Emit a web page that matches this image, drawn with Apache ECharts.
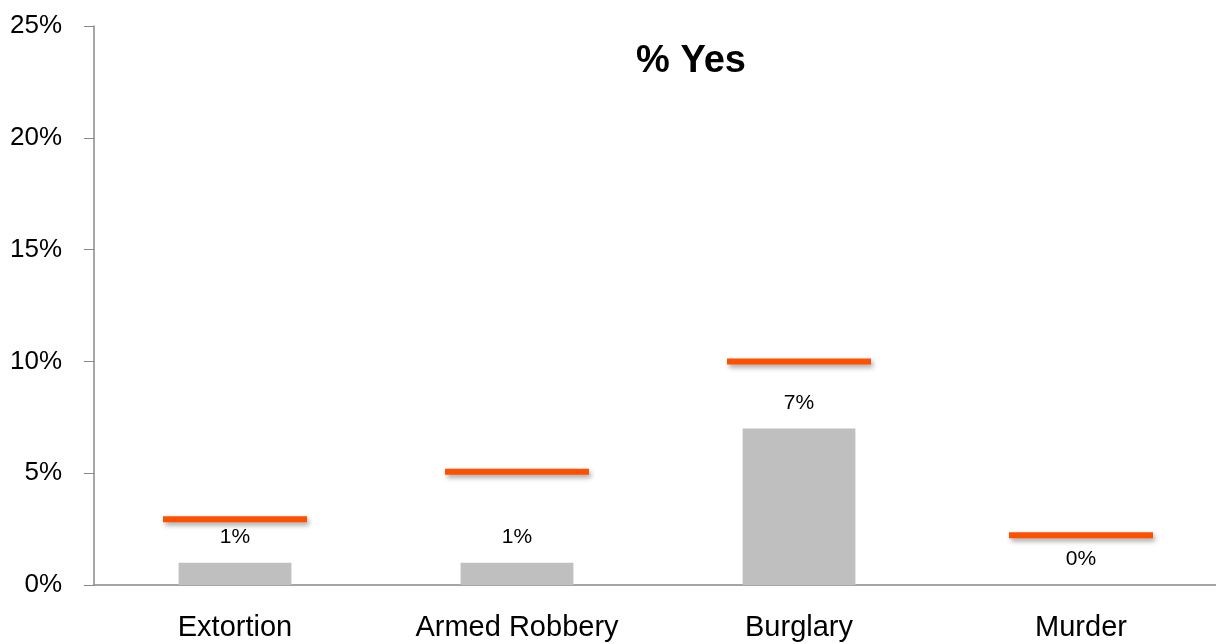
<!DOCTYPE html>
<html>
<head>
<meta charset="utf-8">
<script src="https://cdn.jsdelivr.net/npm/echarts@6/dist/echarts.min.js"></script>
<style>
  html, body { margin: 0; padding: 0; background: #fff; overflow: hidden; }
  #chart { width: 1222px; height: 644px; }
</style>
</head>
<body>
<div id="chart"></div>
<script>
var categories = ['Extortion', 'Armed Robbery', 'Burglary', 'Murder'];
var yesValues = [1, 1, 7, 0];
var markerValues = [2.94, 5.07, 10, 2.23];

var chart = echarts.init(document.getElementById('chart'));
var font = '"Liberation Sans", Arial, sans-serif';

option = {
    animation: false,
    title: {
        text: '% Yes',
        left: 686,
        top: 38,
        textAlign: 'center',
        textStyle: { fontFamily: font, fontSize: 38, fontWeight: 'bold', color: '#000' }
    },
    // the plot runs a few pixels past the right edge of the window, as in the original
    grid: { left: 94, top: 26, right: 0, height: 559 },
    xAxis: {
        type: 'category',
        data: categories,
        axisLine: { lineStyle: { color: '#888', width: 1.5 } },
        axisTick: { length: 10, lineStyle: { color: '#888' } },
        axisLabel: { margin: 28, fontFamily: font, fontSize: 29, color: '#000' }
    },
    yAxis: {
        type: 'value',
        min: 0,
        max: 25,
        interval: 5,
        splitLine: { show: false },
        axisLine: { show: true, lineStyle: { color: '#888', width: 1.5 } },
        axisTick: { show: true, length: 10, lineStyle: { color: '#888' } },
        axisLabel: { margin: 32, fontFamily: font, fontSize: 26, color: '#000', formatter: '{value}%' }
    },
    series: [
        {
            type: 'bar',
            data: yesValues,
            barWidth: '40%',
            itemStyle: { color: '#BFBFBF' },
            label: {
                show: true,
                position: 'top',
                distance: 15,
                fontFamily: font,
                fontSize: 21,
                color: '#000',
                formatter: '{c}%'
            }
        },
        {
            type: 'scatter',
            data: markerValues,
            symbol: 'rect',
            symbolSize: [144, 6],
            z: 5,
            itemStyle: {
                color: '#FF5000',
                opacity: 1,
                shadowColor: 'rgba(0,0,0,0.35)',
                shadowBlur: 5,
                shadowOffsetX: 2,
                shadowOffsetY: 3
            }
        }
    ]
};
chart.setOption(option);
</script>
</body>
</html>
